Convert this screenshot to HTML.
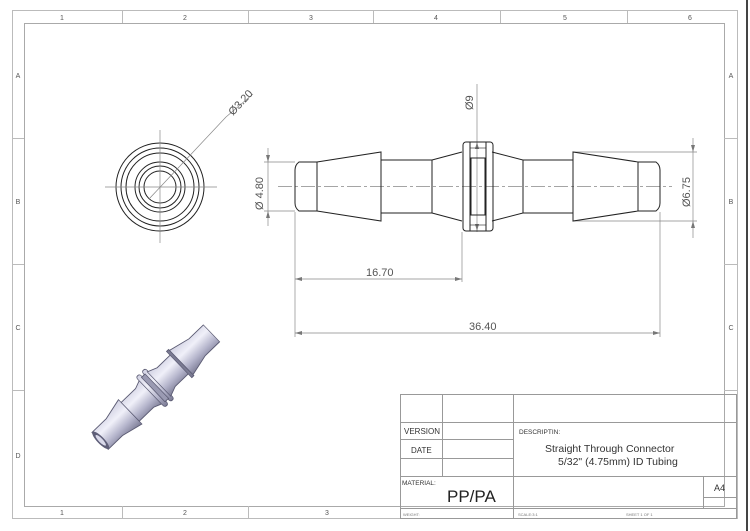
<!DOCTYPE html>
<html><head><meta charset="utf-8"><style>
html,body{margin:0;padding:0;background:#fff;}
svg{display:block;}
text{font-family:"Liberation Sans",sans-serif;}
</style></head><body>
<svg width="750" height="531" viewBox="0 0 750 531" xmlns="http://www.w3.org/2000/svg">
<defs>
<linearGradient id="g" x1="0" y1="0" x2="0" y2="1">
<stop offset="0" stop-color="#d2d2e3"/><stop offset="0.35" stop-color="#f0f0f9"/><stop offset="0.7" stop-color="#b4b4cb"/><stop offset="1" stop-color="#7c7c95"/>
</linearGradient>
</defs>
<rect width="750" height="531" fill="#fff"/>
<rect x="12.5" y="10.5" width="725" height="508" fill="none" stroke="#bbb" stroke-width="1"/>
<rect x="24.5" y="23.5" width="700" height="483" fill="none" stroke="#aaa" stroke-width="1"/>
<line x1="747" y1="0" x2="747" y2="531" stroke="#444" stroke-width="2"/>
<g stroke="#bbb" stroke-width="1">
<line x1="122.5" y1="10" x2="122.5" y2="23"/><line x1="248.5" y1="10" x2="248.5" y2="23"/><line x1="373.5" y1="10" x2="373.5" y2="23"/><line x1="500.5" y1="10" x2="500.5" y2="23"/><line x1="627.5" y1="10" x2="627.5" y2="23"/>
<line x1="122.5" y1="506" x2="122.5" y2="518"/><line x1="248.5" y1="506" x2="248.5" y2="518"/>
<line x1="12" y1="138.5" x2="24" y2="138.5"/><line x1="12" y1="264.5" x2="24" y2="264.5"/><line x1="12" y1="390.5" x2="24" y2="390.5"/>
<line x1="724" y1="138.5" x2="737" y2="138.5"/><line x1="724" y1="264.5" x2="737" y2="264.5"/><line x1="724" y1="390.5" x2="737" y2="390.5"/>
</g>
<g font-size="7" fill="#555" text-anchor="middle">
<text x="62" y="20">1</text><text x="185" y="20">2</text><text x="311" y="20">3</text><text x="436" y="20">4</text><text x="565" y="20">5</text><text x="690" y="20">6</text>
<text x="62" y="515">1</text><text x="185" y="515">2</text><text x="327" y="515">3</text>
<text x="18" y="78">A</text><text x="18" y="204">B</text><text x="18" y="330">C</text><text x="18" y="458">D</text>
<text x="731" y="78">A</text><text x="731" y="204">B</text><text x="731" y="330">C</text>
</g>
<g fill="none" stroke="#222" stroke-width="1">
<circle cx="160" cy="187" r="44"/><circle cx="160" cy="187" r="39"/><circle cx="160" cy="187" r="34"/>
<circle cx="160" cy="187" r="25"/><circle cx="160" cy="187" r="21"/><circle cx="160" cy="187" r="16"/>
</g>
<g stroke="#888" stroke-width="0.7">
<line x1="105" y1="187" x2="217" y2="187"/><line x1="160" y1="130" x2="160" y2="243"/>
<line x1="149" y1="199" x2="226" y2="117"/><line x1="226" y1="117" x2="253" y2="94"/>
</g>
<text x="0" y="0" font-size="11" fill="#555" transform="translate(233,116) rotate(-47)">Ø3.20</text>
<g stroke="#888" stroke-width="0.7" fill="none">
<line x1="278" y1="186.5" x2="672" y2="186.5" stroke-dasharray="14 3 3 3"/>
<line x1="477" y1="84" x2="477" y2="232"/>
<line x1="295" y1="212" x2="295" y2="337"/><line x1="660" y1="212" x2="660" y2="337"/><line x1="462" y1="232" x2="462" y2="282"/>
<line x1="295" y1="279" x2="462" y2="279"/><line x1="295" y1="333" x2="660" y2="333"/>
<line x1="268" y1="148" x2="268" y2="226"/><line x1="264" y1="162" x2="295" y2="162"/><line x1="264" y1="211" x2="295" y2="211"/>
<line x1="693" y1="138" x2="693" y2="238"/><line x1="573" y1="152" x2="697" y2="152"/><line x1="573" y1="221" x2="697" y2="221"/>
</g>
<g fill="#777">
<path d="M295 279 l7 -2 v4z"/><path d="M462 279 l-7 -2 v4z"/>
<path d="M295 333 l7 -2 v4z"/><path d="M660 333 l-7 -2 v4z"/>
<path d="M268 162 l-2 -7 h4z"/><path d="M268 211 l-2 7 h4z"/>
<path d="M693 152 l-2 -7 h4z"/><path d="M693 221 l-2 7 h4z"/>
<path d="M477 142 l-2 7 h4z"/><path d="M477 231 l-2 -7 h4z"/>
</g>
<g font-size="11" fill="#555">
<text x="366" y="276">16.70</text><text x="469" y="330">36.40</text>
<text transform="translate(263,210) rotate(-90)">Ø 4.80</text>
<text transform="translate(473,110) rotate(-90)">Ø9</text>
<text transform="translate(690,207) rotate(-90)">Ø6.75</text>
</g>
<g fill="none" stroke="#222" stroke-width="1">
<path d="M317 162 H299 Q295 165 295 170 V203 Q295 208 299 211 H317"/>
<line x1="317" y1="162" x2="317" y2="211"/>
<path d="M317 162 L381 152 V221 L317 211"/>
<path d="M381 160 H432 V213 H381"/>
<path d="M432 160 L462 152 M432 213 L462 221"/>
<path d="M492 152 L523 160 V213 L492 221"/>
<path d="M523 160 H573 M523 213 H573"/>
<path d="M573 152 V221 L638 211 V162 Z"/>
<path d="M638 162 H656 Q660 165 660 170 V203 Q660 208 656 211 H638"/>
<rect x="463" y="142" width="30" height="89" rx="3"/>
<line x1="470" y1="142" x2="470" y2="231"/><line x1="486" y1="142" x2="486" y2="231"/>
<rect x="471" y="158" width="14" height="57"/>
<line x1="470" y1="148" x2="486" y2="148" stroke-width="0.6"/><line x1="470" y1="225" x2="486" y2="225" stroke-width="0.6"/>
</g>
<g transform="translate(100,441) rotate(-44) scale(1,1.3)">
<g stroke="#5a5a72" stroke-width="0.7">
<path d="M0 -9 H20 L42 -13 V13 L20 9 H0 Z" fill="url(#g)"/>
<path d="M42 -10 H62 L72 -13 V13 L62 10 H42 Z" fill="url(#g)"/>
<rect x="70" y="-16" width="5" height="32" rx="2" fill="url(#g)"/>
<rect x="78" y="-16" width="5" height="32" rx="2" fill="url(#g)"/>
<rect x="74" y="-13" width="5" height="26" fill="#9a9ab2"/>
<path d="M82 -13 L92 -10 H112 V10 H92 L82 13 Z" fill="url(#g)"/>
<rect x="110" y="-14" width="3" height="28" fill="#7a7a92"/>
<path d="M113 -13 L135 -9 H155 V9 H135 L113 13 Z" fill="url(#g)"/>
</g>
<ellipse cx="1" cy="0" rx="3.5" ry="9" fill="#5e5e78"/>
<ellipse cx="1" cy="0" rx="2" ry="5.5" fill="#d9d9ea"/>
</g>
<g fill="none" stroke="#999" stroke-width="1">
<rect x="400.5" y="394.5" width="336" height="124"/>
<line x1="442.5" y1="394" x2="442.5" y2="476"/><line x1="513.5" y1="394" x2="513.5" y2="518"/>
<line x1="400" y1="422.5" x2="737" y2="422.5"/>
<line x1="400" y1="439.5" x2="513" y2="439.5"/><line x1="400" y1="458.5" x2="513" y2="458.5"/>
<line x1="400" y1="476.5" x2="737" y2="476.5"/>
<line x1="400" y1="508.5" x2="737" y2="508.5"/>
<line x1="703.5" y1="476" x2="703.5" y2="508"/><line x1="703.5" y1="497.5" x2="737" y2="497.5"/>
</g>
<g fill="#333">
<text x="404" y="434" font-size="8">VERSION</text>
<text x="411" y="453" font-size="8">DATE</text>
<text x="402" y="485" font-size="6.5">MATERIAL:</text>
<text x="447" y="502" font-size="17" fill="#222">PP/PA</text>
<text x="519" y="434" font-size="6.5">DESCRIPTIN:</text>
<text x="545" y="452" font-size="10.5">Straight  Through  Connector</text>
<text x="558" y="465" font-size="10.5">5/32" (4.75mm) ID Tubing</text>
<text x="714" y="491" font-size="9">A4</text>
<text x="403" y="516" font-size="4" fill="#777">WEIGHT:</text>
<text x="518" y="516" font-size="4" fill="#777">SCALE:3:1</text>
<text x="626" y="516" font-size="4" fill="#777">SHEET 1 OF 1</text>
</g>
</svg>
</body></html>
